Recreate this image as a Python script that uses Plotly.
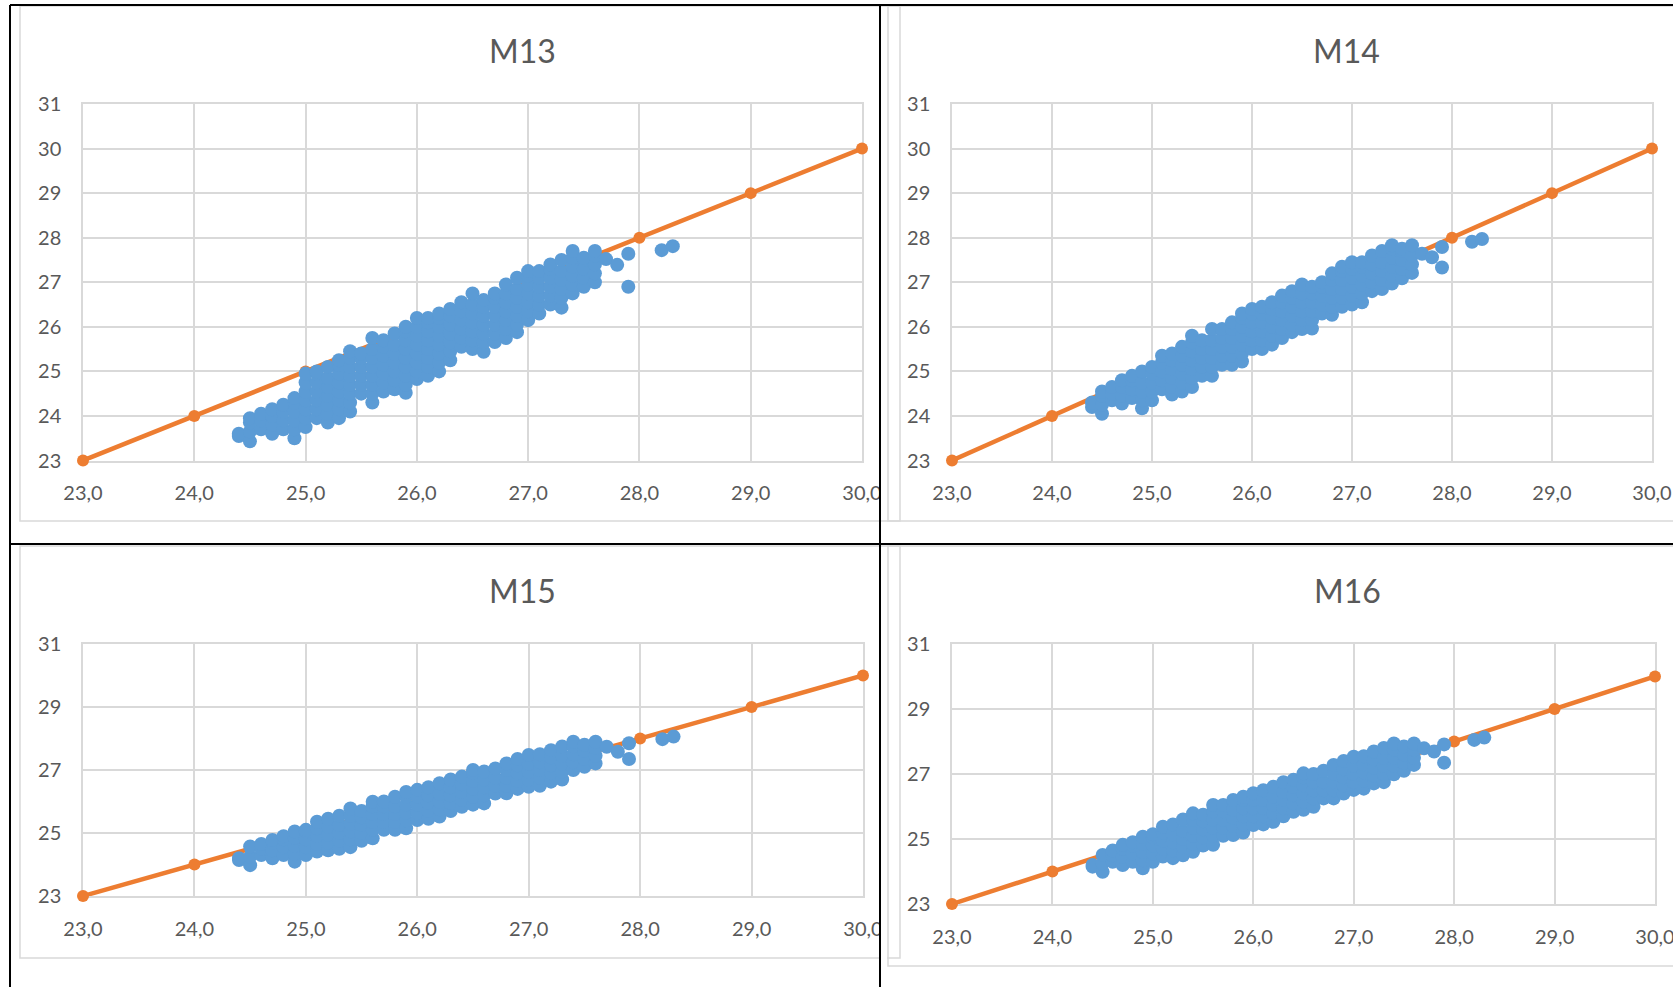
import plotly.graph_objects as go

W, H = 1673, 987

# ---------------- data ----------------
# reference line (orange)
REF_X = [23, 24, 25, 26, 27, 28, 29, 30]
REF_Y = [23, 24, 25, 26, 27, 28, 29, 30]

# blue scatter clouds: (x, [y values observed at that x])
M13_COLS = [
    (24.4, [23.55, 23.6]),
    (24.5, [23.43, 23.65, 23.85, 23.95]),
    (24.6, [23.7, 23.9, 24.05]),
    (24.7, [23.6, 23.8, 24.0, 24.15]),
    (24.8, [23.7, 23.9, 24.1, 24.25]),
    (24.9, [23.5, 23.7, 23.9, 24.1, 24.3, 24.4]),
    (25.0, [23.75, 23.95, 24.15, 24.35, 24.55, 24.75, 24.95]),
    (25.1, [23.95, 24.15, 24.35, 24.55, 24.75, 24.95, 25.0]),
    (25.2, [23.85, 24.05, 24.25, 24.45, 24.65, 24.85, 25.1]),
    (25.3, [23.95, 24.15, 24.35, 24.55, 24.75, 24.95, 25.15, 25.25]),
    (25.4, [24.1, 24.3, 24.5, 24.7, 24.9, 25.1, 25.3, 25.45]),
    (25.5, [24.5, 24.7, 24.9, 25.1, 25.3, 25.4]),
    (25.6, [24.3, 24.5, 24.7, 24.9, 25.1, 25.3, 25.5, 25.75]),
    (25.7, [24.55, 24.75, 24.95, 25.15, 25.35, 25.55, 25.7]),
    (25.8, [24.6, 24.8, 25.0, 25.2, 25.4, 25.6, 25.85]),
    (25.9, [24.52, 24.7, 24.9, 25.1, 25.3, 25.5, 25.7, 25.9, 26.0]),
    (26.0, [24.83, 25.0, 25.2, 25.4, 25.6, 25.8, 26.0, 26.2]),
    (26.1, [24.9, 25.1, 25.3, 25.5, 25.7, 25.9, 26.1, 26.2]),
    (26.2, [25.0, 25.2, 25.4, 25.6, 25.8, 26.0, 26.2, 26.3]),
    (26.3, [25.25, 25.45, 25.65, 25.85, 26.05, 26.25, 26.4]),
    (26.4, [25.55, 25.75, 25.95, 26.15, 26.35, 26.55]),
    (26.5, [25.5, 25.7, 25.9, 26.1, 26.3, 26.5, 26.75]),
    (26.6, [25.44, 25.65, 25.85, 26.05, 26.25, 26.45, 26.6]),
    (26.7, [25.66, 25.85, 26.05, 26.25, 26.45, 26.65, 26.75]),
    (26.8, [25.75, 25.95, 26.15, 26.35, 26.55, 26.75, 26.95]),
    (26.9, [25.88, 26.05, 26.25, 26.45, 26.65, 26.85, 27.1]),
    (27.0, [26.15, 26.35, 26.55, 26.75, 26.95, 27.15, 27.25]),
    (27.1, [26.3, 26.5, 26.7, 26.9, 27.1, 27.25]),
    (27.2, [26.5, 26.7, 26.9, 27.1, 27.3, 27.4]),
    (27.3, [26.43, 26.65, 26.85, 27.05, 27.25, 27.5]),
    (27.4, [26.75, 26.95, 27.15, 27.35, 27.55, 27.7]),
    (27.5, [26.9, 27.1, 27.3, 27.5, 27.55]),
    (27.6, [27.0, 27.2, 27.4, 27.6, 27.7]),
    (27.7, [27.52]),
    (27.8, [27.39]),
    (27.9, [26.9, 27.64]),
    (28.2, [27.72]),
    (28.3, [27.81]),
]

M14_COLS = [
    (24.4, [24.2, 24.3]),
    (24.5, [24.05, 24.25, 24.45, 24.55]),
    (24.6, [24.35, 24.5, 24.65]),
    (24.7, [24.28, 24.45, 24.65, 24.8]),
    (24.8, [24.4, 24.6, 24.8, 24.9]),
    (24.9, [24.17, 24.35, 24.55, 24.75, 25.0]),
    (25.0, [24.35, 24.55, 24.75, 24.95, 25.1]),
    (25.1, [24.6, 24.8, 25.0, 25.2, 25.35]),
    (25.2, [24.48, 24.65, 24.85, 25.05, 25.25, 25.4]),
    (25.3, [24.55, 24.75, 24.95, 25.15, 25.35, 25.55]),
    (25.4, [24.65, 24.85, 25.05, 25.25, 25.45, 25.65, 25.8]),
    (25.5, [24.9, 25.1, 25.3, 25.5, 25.7]),
    (25.6, [24.9, 25.1, 25.3, 25.5, 25.7, 25.95]),
    (25.7, [25.15, 25.35, 25.55, 25.75, 25.95]),
    (25.8, [25.15, 25.35, 25.55, 25.75, 25.95, 26.1]),
    (25.9, [25.22, 25.4, 25.6, 25.8, 26.0, 26.2, 26.3]),
    (26.0, [25.5, 25.7, 25.9, 26.1, 26.3, 26.4]),
    (26.1, [25.5, 25.7, 25.9, 26.1, 26.3, 26.45]),
    (26.2, [25.6, 25.8, 26.0, 26.2, 26.4, 26.55]),
    (26.3, [25.75, 25.95, 26.15, 26.35, 26.55, 26.7]),
    (26.4, [25.88, 26.05, 26.25, 26.45, 26.65, 26.8]),
    (26.5, [25.95, 26.15, 26.35, 26.55, 26.75, 26.95]),
    (26.6, [25.96, 26.15, 26.35, 26.55, 26.75, 26.9]),
    (26.7, [26.3, 26.5, 26.7, 26.9, 27.0]),
    (26.8, [26.27, 26.45, 26.65, 26.85, 27.05, 27.2]),
    (26.9, [26.45, 26.65, 26.85, 27.05, 27.25, 27.35]),
    (27.0, [26.5, 26.7, 26.9, 27.1, 27.3, 27.45]),
    (27.1, [26.55, 26.75, 26.95, 27.15, 27.35, 27.45]),
    (27.2, [26.8, 27.0, 27.2, 27.4, 27.6]),
    (27.3, [26.85, 27.05, 27.25, 27.45, 27.7]),
    (27.4, [26.97, 27.15, 27.35, 27.55, 27.75, 27.83]),
    (27.5, [27.09, 27.3, 27.5, 27.7, 27.75]),
    (27.6, [27.21, 27.4, 27.6, 27.83]),
    (27.7, [27.64]),
    (27.8, [27.56]),
    (27.9, [27.33, 27.79]),
    (28.2, [27.91]),
    (28.3, [27.97]),
]

M15_COLS = [
    (24.4, [24.14, 24.2]),
    (24.5, [23.98, 24.25, 24.57]),
    (24.6, [24.3, 24.5, 24.65]),
    (24.7, [24.2, 24.45, 24.7, 24.78]),
    (24.8, [24.3, 24.55, 24.8, 24.9]),
    (24.9, [24.09, 24.35, 24.6, 24.85, 25.05]),
    (25.0, [24.3, 24.55, 24.8, 25.05, 25.1]),
    (25.1, [24.41, 24.65, 24.9, 25.15, 25.36]),
    (25.2, [24.45, 24.7, 24.95, 25.2, 25.45]),
    (25.3, [24.5, 24.75, 25.0, 25.25, 25.55]),
    (25.4, [24.55, 24.8, 25.05, 25.3, 25.55, 25.78]),
    (25.5, [24.75, 25.0, 25.25, 25.5, 25.7]),
    (25.6, [24.83, 25.1, 25.35, 25.6, 25.85, 25.99]),
    (25.7, [25.1, 25.35, 25.6, 25.85, 26.0]),
    (25.8, [25.1, 25.35, 25.6, 25.85, 26.15]),
    (25.9, [25.15, 25.4, 25.65, 25.9, 26.15, 26.3]),
    (26.0, [25.41, 25.65, 25.9, 26.15, 26.37]),
    (26.1, [25.45, 25.7, 25.95, 26.2, 26.45]),
    (26.2, [25.52, 25.75, 26.0, 26.25, 26.58]),
    (26.3, [25.7, 25.95, 26.2, 26.45, 26.7]),
    (26.4, [25.83, 26.05, 26.3, 26.55, 26.79]),
    (26.5, [25.9, 26.15, 26.4, 26.65, 26.9, 27.0]),
    (26.6, [25.94, 26.2, 26.45, 26.7, 26.95]),
    (26.7, [26.25, 26.5, 26.75, 27.05]),
    (26.8, [26.26, 26.5, 26.75, 27.0, 27.21]),
    (26.9, [26.4, 26.65, 26.9, 27.15, 27.35]),
    (27.0, [26.47, 26.7, 26.95, 27.2, 27.48]),
    (27.1, [26.5, 26.75, 27.0, 27.25, 27.5]),
    (27.2, [26.63, 26.9, 27.15, 27.4, 27.63]),
    (27.3, [26.7, 26.95, 27.2, 27.45, 27.75]),
    (27.4, [27.0, 27.25, 27.5, 27.75, 27.9]),
    (27.5, [27.1, 27.35, 27.6, 27.8]),
    (27.6, [27.21, 27.45, 27.7, 27.9]),
    (27.7, [27.74]),
    (27.8, [27.58]),
    (27.9, [27.35, 27.85]),
    (28.2, [27.98]),
    (28.3, [28.06]),
]

M16_COLS = [
    (24.4, [24.15, 24.2]),
    (24.5, [23.99, 24.25, 24.51]),
    (24.6, [24.3, 24.5, 24.65]),
    (24.7, [24.2, 24.45, 24.7, 24.82]),
    (24.8, [24.3, 24.55, 24.8, 24.9]),
    (24.9, [24.1, 24.35, 24.6, 24.85, 25.07]),
    (25.0, [24.3, 24.55, 24.8, 25.05, 25.15]),
    (25.1, [24.46, 24.7, 24.95, 25.2, 25.38]),
    (25.2, [24.41, 24.65, 24.9, 25.15, 25.45]),
    (25.3, [24.5, 24.75, 25.0, 25.25, 25.6]),
    (25.4, [24.61, 24.85, 25.1, 25.35, 25.6, 25.79]),
    (25.5, [24.8, 25.05, 25.3, 25.55, 25.75]),
    (25.6, [24.82, 25.1, 25.35, 25.6, 25.85, 26.05]),
    (25.7, [25.1, 25.35, 25.6, 25.85, 26.05]),
    (25.8, [25.12, 25.4, 25.65, 25.9, 26.2]),
    (25.9, [25.2, 25.45, 25.7, 25.95, 26.2, 26.3]),
    (26.0, [25.43, 25.7, 25.95, 26.2, 26.41]),
    (26.1, [25.45, 25.7, 25.95, 26.2, 26.5]),
    (26.2, [25.53, 25.8, 26.05, 26.3, 26.61]),
    (26.3, [25.7, 25.95, 26.2, 26.45, 26.75]),
    (26.4, [25.84, 26.1, 26.35, 26.6, 26.82]),
    (26.5, [25.9, 26.15, 26.4, 26.65, 26.9, 27.02]),
    (26.6, [25.99, 26.25, 26.5, 26.75, 27.0]),
    (26.7, [26.25, 26.5, 26.75, 27.1]),
    (26.8, [26.25, 26.5, 26.75, 27.0, 27.28]),
    (26.9, [26.4, 26.65, 26.9, 27.15, 27.4]),
    (27.0, [26.51, 26.75, 27.0, 27.25, 27.53]),
    (27.1, [26.55, 26.8, 27.05, 27.3, 27.55]),
    (27.2, [26.71, 26.95, 27.2, 27.45, 27.69]),
    (27.3, [26.75, 27.0, 27.25, 27.5, 27.8]),
    (27.4, [26.99, 27.25, 27.5, 27.75, 27.94]),
    (27.5, [27.1, 27.35, 27.6, 27.85]),
    (27.6, [27.28, 27.5, 27.75, 27.94]),
    (27.7, [27.79]),
    (27.8, [27.69]),
    (27.9, [27.35, 27.91]),
    (28.2, [28.05]),
    (28.3, [28.12]),
]

TITLES = ["M13", "M14", "M15", "M16"]
X_TICKS = [23, 24, 25, 26, 27, 28, 29, 30]
Y_TICKS_TOP = [23, 24, 25, 26, 27, 28, 29, 30, 31]
Y_TICKS_BOTTOM = [23, 25, 27, 29, 31]

# ---------------- layout geometry (pixels) ----------------
BLUE = "#5B9BD5"
ORANGE = "#ED7D31"
GRID = "#D9D9D9"
TXT = "#595959"
FONT = "Lato, Carlito, 'Liberation Sans', sans-serif"

panels = [
    # cols, title, plot box (x0, x1, ytop, ybottom), yticks, title center
    (M13_COLS, TITLES[0], (83, 862, 104, 460.5), Y_TICKS_TOP, (522, 50)),
    (M14_COLS, TITLES[1], (952, 1652, 104, 460.5), Y_TICKS_TOP, (1346, 50)),
    (M15_COLS, TITLES[2], (83, 863, 644, 896), Y_TICKS_BOTTOM, (522, 590)),
    (M16_COLS, TITLES[3], (952, 1655, 644, 904), Y_TICKS_BOTTOM, (1347, 590)),
]


def px(x):
    return x / W


def py(y):
    return 1 - y / H


fig = go.Figure()
annotations = []
layout_axes = {}

for i, (cols, title, box, yt, tc) in enumerate(panels, start=1):
    xs, ys = [], []
    for xv, yl in cols:
        for yv in yl:
            xs.append(xv)
            ys.append(yv)
    xa = "x" if i == 1 else f"x{i}"
    ya = "y" if i == 1 else f"y{i}"
    fig.add_trace(go.Scatter(
        x=REF_X, y=REF_Y, mode="lines+markers", xaxis=xa, yaxis=ya,
        line=dict(color=ORANGE, width=4.5),
        marker=dict(color=ORANGE, size=12),
        showlegend=False, cliponaxis=False, hoverinfo="skip"))
    fig.add_trace(go.Scatter(
        x=xs, y=ys, mode="markers", xaxis=xa, yaxis=ya,
        marker=dict(color=BLUE, size=14, line=dict(width=0)),
        showlegend=False, cliponaxis=False))

    x0, x1, yt0, yb0 = box
    xkey = "xaxis" if i == 1 else f"xaxis{i}"
    ykey = "yaxis" if i == 1 else f"yaxis{i}"
    layout_axes[xkey] = dict(
        domain=[px(x0), px(x1)], range=[23, 30], anchor=ya, automargin=False,
        tickvals=X_TICKS, tickformat=".1f", showgrid=True, gridcolor=GRID,
        gridwidth=1.5, showline=True, linecolor=GRID, linewidth=1.5, mirror=True,
        zeroline=False, ticks="", ticklabelstandoff=14, layer="below traces",
        ticklabeloverflow="allow",
        tickfont=dict(family=FONT, size=20, color=TXT), fixedrange=True)
    layout_axes[ykey] = dict(
        domain=[py(yb0), py(yt0)], range=[23, 31], anchor=xa, automargin=False,
        tickvals=yt, showgrid=True, gridcolor=GRID, gridwidth=1.5,
        showline=True, linecolor=GRID, linewidth=1.5, mirror=True,
        zeroline=False, ticks="", ticklabelstandoff=16, layer="below traces",
        ticklabeloverflow="allow",
        tickfont=dict(family=FONT, size=20, color=TXT), fixedrange=True)
    annotations.append(dict(
        text=title, x=px(tc[0]), y=py(tc[1]), xref="paper", yref="paper",
        xanchor="center", yanchor="middle", showarrow=False,
        font=dict(family=FONT, size=32, color=TXT)))

shapes = []
# grey chart-area borders
for (x0, y0, x1, y1) in [(20, 6, 900, 521), (888, 6, 1700, 521),
                         (20, 546, 900, 958), (888, 546, 1700, 966)]:
    shapes.append(dict(type="rect", xref="paper", yref="paper",
                       x0=px(x0), x1=px(x1), y0=py(y0), y1=py(y1),
                       line=dict(color=GRID, width=1.5), layer="below"))
# white mask where the left charts are cut by the table cell border
shapes.append(dict(type="rect", xref="paper", yref="paper",
                   x0=px(881), x1=px(887), y0=py(520), y1=py(470),
                   fillcolor="white", line=dict(width=0), layer="above"))
shapes.append(dict(type="rect", xref="paper", yref="paper",
                   x0=px(881), x1=px(887), y0=py(960), y1=py(905),
                   fillcolor="white", line=dict(width=0), layer="above"))
# black table-cell borders
for (x0, y0, x1, y1) in [(10, 5, 1673, 5), (10, 5, 10, 987),
                         (880, 5, 880, 987), (10, 544, 1673, 544)]:
    shapes.append(dict(type="line", xref="paper", yref="paper",
                       x0=px(x0), x1=px(x1), y0=py(y0), y1=py(y1),
                       line=dict(color="black", width=2), layer="above"))

fig.update_layout(
    width=W, height=H, margin=dict(l=0, r=0, t=0, b=0, autoexpand=False),
    paper_bgcolor="white", plot_bgcolor="white",
    separators=",.", annotations=annotations, shapes=shapes,
    **layout_axes)

fig.write_html(
    "out.html",
    config={"displayModeBar": False},
    post_script="document.body.style.margin='0px';"
                "document.body.style.overflow='hidden';")
